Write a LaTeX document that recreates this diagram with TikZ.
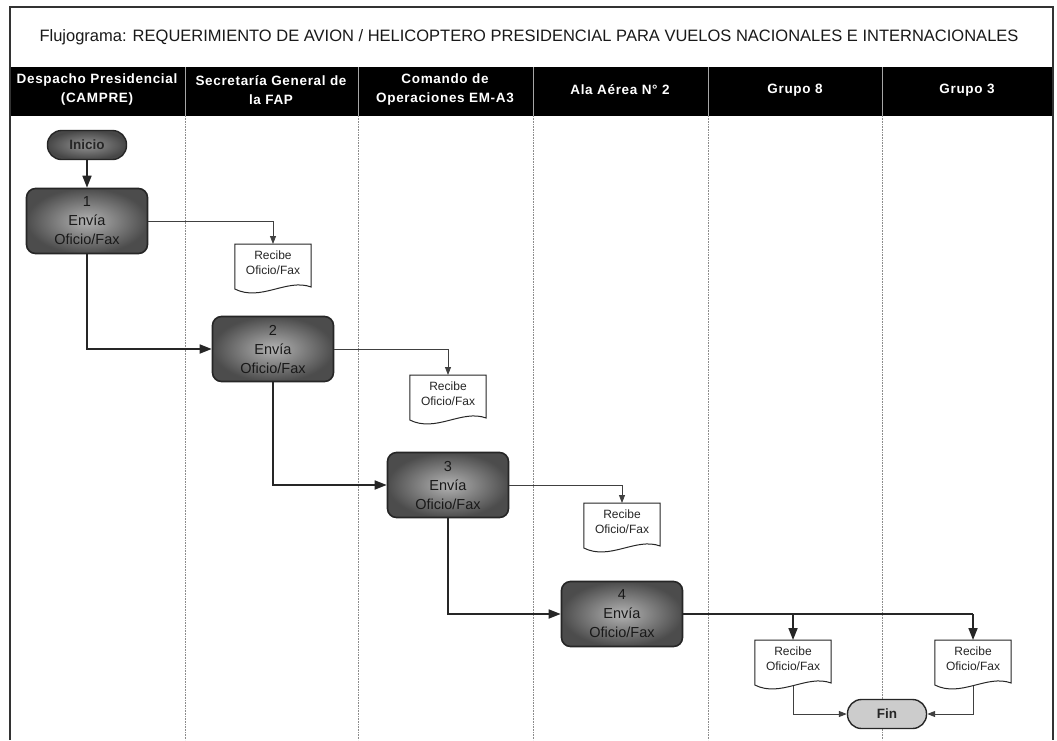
\documentclass[tikz,border=0pt]{standalone}
\usepackage{fontspec}
\setmainfont{Liberation Sans}
\usetikzlibrary{arrows.meta,calc,shadings}
\newcommand\docout[1]{\draw[docline] (#1.north west) -- (#1.north east) -- ($(#1.north east)+(0,43)$) .. controls ($(#1.north west)+(52,34)$) and ($(#1.north west)+(26,58)$) .. ($(#1.north west)+(0,45)$) -- cycle;}
\begin{document}
\begin{tikzpicture}[x=1pt,y=-1pt,
  lane/.style={draw=black!45, densely dotted, line width=0.6pt},
  hdrdiv/.style={draw=black!35, line width=1pt},
  hdr/.style={text=white, align=center, font=\fontsize{13.5}{19}\selectfont\bfseries\addfontfeature{LetterSpace=5}},
  proc/.style={rounded corners=9pt, draw=black!85, line width=1.6pt, minimum width=121pt, minimum height=65pt, inner sep=0pt, shading=radial, inner color=black!30, outer color=black!70, align=center, font=\fontsize{14.5}{19}\selectfont, text=black!90},
  term/.style={rounded corners=14pt, draw=black!85, line width=1.4pt, minimum width=79pt, minimum height=29pt, inner sep=0pt, font=\fontsize{13.5}{15}\selectfont\bfseries, text=black!85},
  docbox/.style={anchor=north, minimum width=76pt, minimum height=37pt, inner sep=0pt, align=center, font=\fontsize{12}{14.5}\selectfont, text=black!85},
  docline/.style={draw=black!85, line width=1pt},
  thinarrow/.style={draw=black!75, line width=0.8pt, -{Triangle[length=8pt,width=6pt]}},
  thickarrow/.style={draw=black!85, line width=1.7pt, -{Triangle[length=12pt,width=9pt]}},
  thickline/.style={draw=black!85, line width=1.7pt},
]
\useasboundingbox (0,0) rectangle (1057,740);
\fill[white] (0,0) rectangle (1057,740);
% header band and frame
\fill[black] (10,67) rectangle (1053,116);
\foreach \x in {185,358,533,708,882} \draw[hdrdiv] (\x,67) -- (\x,116);
\foreach \x in {185,358,533,708,882} \draw[lane] (\x,116) -- (\x,740);
\draw[line width=1.3pt, black!80] (10,740) -- (10,7) -- (1053,7) -- (1053,740);
% title
\node[font=\fontsize{16.5}{19}\selectfont, text=black!90] (title) at (529,37) {Flujograma: REQUERIMIENTO DE AVION / HELICOPTERO PRESIDENCIAL PARA VUELOS NACIONALES E INTERNACIONALES};
% lane headers
\node[hdr] (h1) at (97,90) {Despacho Presidencial\\(CAMPRE)};
\node[hdr] (h2) at (271,90) {Secretaría General de\\la FAP};
\node[hdr] (h3) at (445,90) {Comando de\\Operaciones EM-A3};
\node[hdr] (h4) at (620,90) {Ala Aérea N° 2};
\node[hdr] (h5) at (795,90) {Grupo 8};
\node[hdr] (h6) at (967,90) {Grupo 3};
% nodes
\node[term, shading=radial, inner color=black!42, outer color=black!72] (ini) at (87,145) {Inicio};
\node[proc] (b1) at (87,221) {1\\Envía\\Oficio/Fax};
\node[proc] (b2) at (273,349) {2\\Envía\\Oficio/Fax};
\node[proc] (b3) at (448,485) {3\\Envía\\Oficio/Fax};
\node[proc] (b4) at (622,614) {4\\Envía\\Oficio/Fax};
\node[docbox] (d1) at (273,244) {Recibe\\Oficio/Fax};
\node[docbox] (d2) at (448,375) {Recibe\\Oficio/Fax};
\node[docbox] (d3) at (622,503) {Recibe\\Oficio/Fax};
\node[docbox] (d4) at (793,640) {Recibe\\Oficio/Fax};
\node[docbox] (d5) at (973,640) {Recibe\\Oficio/Fax};
\docout{d1}\docout{d2}\docout{d3}\docout{d4}\docout{d5}
\node[term, fill=black!20] (fin) at (887,714) {Fin};
\coordinate (d4b) at ($(d4.north)+(0,45.5)$);
\coordinate (d5b) at ($(d5.north)+(0,45.5)$);
\coordinate (j4) at (d4.north |- b4.east);
\coordinate (j5) at (d5.north |- b4.east);
% connectors
\draw[thickarrow] (ini) -- (b1);
\draw[thinarrow] (b1.east) -| (d1.north);
\draw[thickarrow] (b1.south) |- (b2.west);
\draw[thinarrow] (b2.east) -| (d2.north);
\draw[thickarrow] (b2.south) |- (b3.west);
\draw[thinarrow] (b3.east) -| (d3.north);
\draw[thickarrow] (b3.south) |- (b4.west);
\draw[thickline] (b4.east) -- (j5);
\draw[thickarrow] (j4) -- (d4.north);
\draw[thickarrow] (j5) -- (d5.north);
\draw[thinarrow, line width=1pt] (d4b) |- (fin.west);
\draw[thinarrow, line width=1pt] (d5b) |- (fin.east);
\end{tikzpicture}
\end{document}
